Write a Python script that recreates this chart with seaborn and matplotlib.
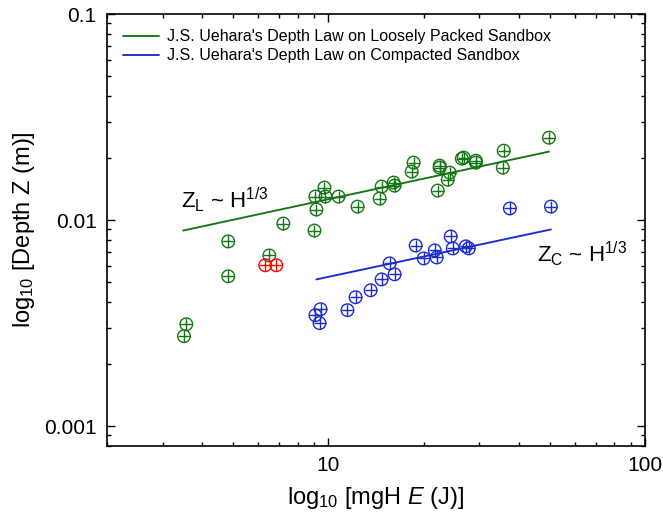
import numpy as np
import pandas as pd
import matplotlib
matplotlib.use("Agg")
import matplotlib.pyplot as plt
import seaborn as sns
from matplotlib.ticker import LogLocator, NullFormatter

# ---------------- data ----------------
loose_E = [3.50, 3.56, 4.83, 4.83, 6.51, 7.21, 9.04, 9.17, 9.10, 9.72, 9.79,
           10.77, 12.37, 14.73, 14.52, 16.07, 16.19, 18.59, 18.33, 22.47, 22.47,
           24.17, 23.82, 22.15, 26.39, 26.77, 29.22, 29.22, 35.8, 35.55, 49.74]
loose_Z = [0.00273, 0.00312, 0.00533, 0.00787, 0.00673, 0.00961, 0.00889,
           0.01124, 0.01300, 0.01437, 0.01300, 0.01300, 0.01162, 0.01453,
           0.01271, 0.01520, 0.01469, 0.01899, 0.01718, 0.01836, 0.01795,
           0.01698, 0.01570, 0.01390, 0.01986, 0.02009, 0.01941, 0.01899,
           0.02171, 0.01795, 0.02509]

outlier_E = [6.32, 6.85]
outlier_Z = [0.00603, 0.00603]

compact_E = [9.10, 9.45, 9.38, 11.49, 12.19, 13.60, 14.73, 15.61, 16.19, 18.87,
             20.0, 21.68, 21.99, 24.34, 24.71, 27.17, 27.76, 37.43, 50.45]
compact_Z = [0.00345, 0.00369, 0.00316, 0.00365, 0.00422, 0.00456, 0.00515,
             0.00616, 0.00545, 0.00752, 0.00651, 0.00712, 0.00658, 0.00832,
             0.00728, 0.00745, 0.00728, 0.01138, 0.01162]

law_loose_E = [3.48, 49.74]
law_loose_Z = [0.00889, 0.02148]
law_compact_E = [9.17, 50.45]
law_compact_Z = [0.00515, 0.00900]

legend_labels = ["J.S. Uehara's Depth Law on Loosely Packed Sandbox",
                 "J.S. Uehara's Depth Law on Compacted Sandbox"]

x_ticks = [10, 100]
x_tick_labels = ["10", "100"]
y_ticks = [0.001, 0.01, 0.1]
y_tick_labels = ["0.001", "0.01", "0.1"]

GREEN = "#137513"
BLUE = "#1a2ccc"
RED = "#ff0000"

# ---------------- style ----------------
sns.set_style("ticks")
plt.rcParams["font.family"] = ["Liberation Sans", "DejaVu Sans"]
plt.rcParams["mathtext.fontset"] = "custom"
plt.rcParams["mathtext.rm"] = "Liberation Sans"
plt.rcParams["mathtext.it"] = "Liberation Sans:italic"
plt.rcParams["mathtext.bf"] = "Liberation Sans:bold"
for k in ["text.color", "axes.labelcolor", "xtick.color", "ytick.color",
          "axes.edgecolor"]:
    plt.rcParams[k] = "black"

fig = plt.figure(figsize=(6.63, 5.24), dpi=100)
ax = fig.add_axes([107 / 663, 1 - 446 / 524, 538 / 663, 432 / 524])

loose = pd.DataFrame({"E": loose_E, "Z": loose_Z})
outl = pd.DataFrame({"E": outlier_E, "Z": outlier_Z})
comp = pd.DataFrame({"E": compact_E, "Z": compact_Z})
ll = pd.DataFrame({"E": law_loose_E, "Z": law_loose_Z})
lc = pd.DataFrame({"E": law_compact_E, "Z": law_compact_Z})

ax.set_xscale("log")
ax.set_yscale("log")

# fit lines
sns.lineplot(data=ll, x="E", y="Z", color=GREEN, lw=1.35, ax=ax,
             label=legend_labels[0], estimator=None, sort=False, zorder=2)
sns.lineplot(data=lc, x="E", y="Z", color=BLUE, lw=1.35, ax=ax,
             label=legend_labels[1], estimator=None, sort=False, zorder=2)

# circled-plus markers
S = 82
for df, c in [(loose, GREEN), (outl, RED), (comp, BLUE)]:
    sns.scatterplot(data=df, x="E", y="Z", marker="o", s=S, color=c,
                    facecolor="none", edgecolor=c, linewidth=1.0, ax=ax,
                    zorder=3, legend=False)
    sns.scatterplot(data=df, x="E", y="Z", marker="+", s=S, color=c,
                    linewidth=1.0, ax=ax, zorder=3, legend=False)

ax.set_xlim(2, 100)
ax.set_ylim(0.0008, 0.1)

ax.set_xticks(x_ticks)
ax.set_xticklabels(x_tick_labels)
ax.set_yticks(y_ticks)
ax.set_yticklabels(y_tick_labels)
ax.xaxis.set_minor_locator(LogLocator(base=10, subs=np.arange(2, 10)))
ax.yaxis.set_minor_locator(LogLocator(base=10, subs=np.arange(2, 10)))
ax.xaxis.set_minor_formatter(NullFormatter())
ax.yaxis.set_minor_formatter(NullFormatter())

ax.tick_params(which="both", direction="in", top=True, right=True,
               labelsize=15, pad=7.5, width=1.0, color="black")
ax.tick_params(which="major", length=5.5)
ax.tick_params(which="minor", length=3)
for sp in ax.spines.values():
    sp.set_linewidth(1.2)
    sp.set_color("black")

ax.set_xlabel(r"log$_{10}$ [mgH $\mathit{E}$ (J)]", fontsize=17, labelpad=7)
ax.set_ylabel(r"log$_{10}$ [Depth Z (m)]", fontsize=17, labelpad=5)

ax.text(0.1375, 0.553, r"Z$_\mathregular{L}$ ~ H$^\mathregular{1/3}$",
        transform=ax.transAxes, fontsize=16, va="baseline", ha="left")
ax.text(0.799, 0.426, r"Z$_\mathregular{C}$ ~ H$^\mathregular{1/3}$",
        transform=ax.transAxes, fontsize=16, va="baseline", ha="left")

handles = ax.get_lines()[:2]
ax.legend(handles=handles, labels=legend_labels, loc="upper left",
          bbox_to_anchor=(0.029, 0.965), frameon=False, fontsize=11.5,
          borderpad=0, borderaxespad=0, handlelength=2.3, handletextpad=0.45,
          labelspacing=0.25)

fig.savefig("out.png", dpi=100)
